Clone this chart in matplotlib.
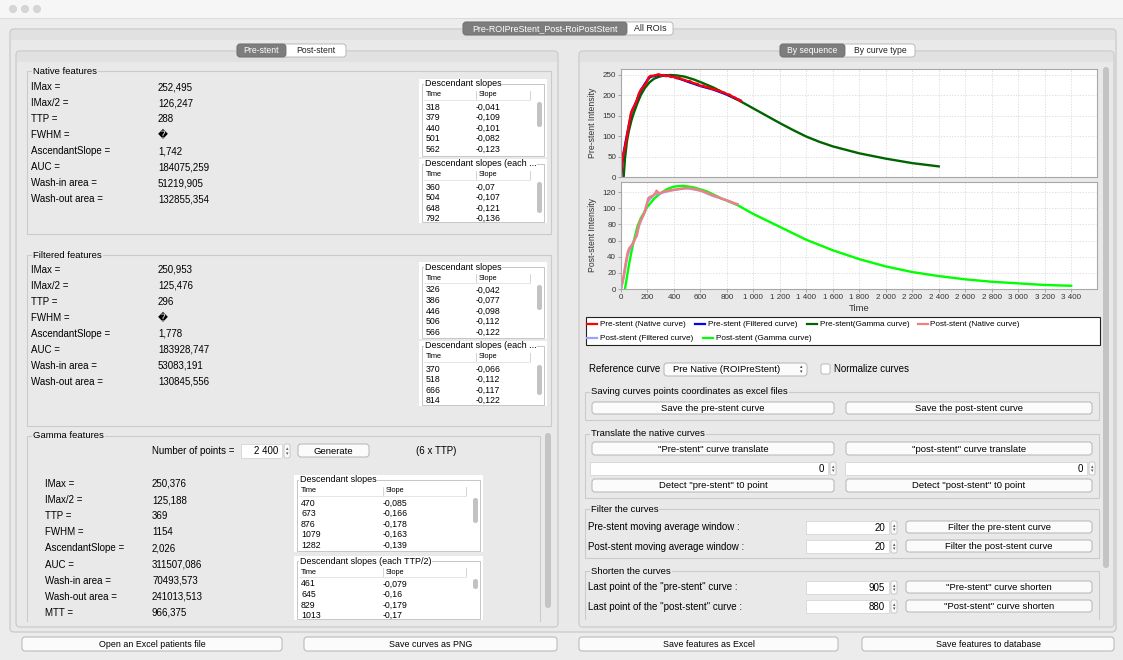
import matplotlib
matplotlib.use('Agg')
import matplotlib.pyplot as plt
from matplotlib.patches import Rectangle, FancyBboxPatch, Circle
from matplotlib.ticker import FuncFormatter, MultipleLocator

# ---- curve data ----
pre_native_t = [0, 5, 10, 20, 30, 45, 60, 75, 90, 105, 120, 135, 150, 165, 180, 195, 210, 225, 245, 265,
                285, 300, 320, 340, 360, 380, 400, 420, 440, 460, 480, 500, 520, 540, 560, 580, 600, 620,
                640, 660, 680, 700, 720, 740, 760, 780, 800, 820, 840, 860, 880, 895, 905]
pre_native_v = [0, 22, 42, 58, 72, 100, 128, 156, 168, 176, 189, 204, 214, 219, 225, 233, 245, 248, 248, 250,
                252, 248, 250, 247, 249, 245, 246, 242, 243, 239, 238, 235, 235, 231, 229, 228, 223, 224,
                220, 220, 216, 216, 212, 212, 208, 207, 203, 202, 197, 195, 190, 189, 186]
pre_filt_t = [0, 10, 20, 40, 60, 80, 100, 120, 140, 160, 180, 200, 220, 240, 270, 300, 350, 400, 450,
              500, 600, 700, 800, 905]
pre_filt_v = [0, 35, 60, 95, 128, 160, 174, 188, 206, 218, 228, 238, 245, 247, 249, 250, 248, 245, 240,
              234, 223, 214, 202, 187]
pre_gamma_t = [20, 30, 45, 60, 80, 100, 125, 150, 180, 215, 250, 290, 330, 370, 420, 480, 550, 620, 700,
               800, 900, 1000, 1100, 1200, 1300, 1400, 1500, 1600, 1800, 2000, 2200, 2400]
pre_gamma_v = [0, 45, 88, 114, 140, 160, 182, 201, 218, 232, 241, 246, 249, 250, 249, 246, 239, 230, 219,
               202, 186, 168, 150, 132, 115, 99, 86, 75, 58, 45, 34, 26]

post_native_t = [0, 10, 20, 35, 50, 60, 75, 90, 105, 120, 135, 150, 165, 180, 195, 205, 215, 230, 245, 260,
                 268, 280, 295, 310, 330, 360, 400, 440, 480, 520, 560, 600, 640, 680, 720, 760, 800, 840, 880]
post_native_v = [0, 8, 16, 32, 45, 50, 53, 56, 62, 66, 80, 86, 90, 95, 105, 112, 114, 115, 116, 119,
                 122, 120, 118, 120, 121, 122, 123, 124, 125, 125, 124, 122, 120, 117, 115, 112, 110, 107, 105]
post_filt_t = [0, 20, 50, 80, 110, 140, 170, 200, 250, 300, 400, 500, 600, 700, 800, 880]
post_filt_v = [0, 14, 42, 54, 64, 80, 92, 108, 117, 119, 123, 125, 122, 115, 110, 105]
post_gamma_t = [30, 40, 60, 80, 100, 125, 150, 200, 250, 300, 350, 400, 470, 550, 650, 750, 880, 1000,
                1200, 1400, 1600, 1800, 2000, 2200, 2400, 2600, 2800, 3000, 3200, 3400]
post_gamma_v = [0, 10, 30, 47, 62, 78, 88, 102, 112, 119, 124, 127, 128, 126, 121, 113, 104, 93,
                77, 61, 48, 37, 28, 21, 16, 12, 9, 7, 5, 4]

legend_names = ['Pre-stent (Native curve)', 'Pre-stent (Filtered curve)', 'Pre-stent(Gamma curve)',
                'Post-stent (Native curve)', 'Post-stent (Filtered curve)', 'Post-stent (Gamma curve)']
legend_colors = ['#ff0000', '#0000ff', '#006400', '#f08080', '#a0a0ff', '#00ff00']

# ---- feature panels ----
feat_labels = ['IMax =', 'IMax/2 =', 'TTP =', 'FWHM =', 'AscendantSlope =', 'AUC =',
               'Wash-in area =', 'Wash-out area =']
native_values = ['252,495', '126,247', '288', '\ufffd', '1,742', '184075,259', '51219,905', '132855,354']
filtered_values = ['250,953', '125,476', '296', '\ufffd', '1,778', '183928,747', '53083,191', '130845,556']
gamma_labels = feat_labels + ['MTT =']
gamma_values = ['250,376', '125,188', '369', '1154', '2,026', '311507,086', '70493,573',
                '241013,513', '966,375']

native_slope_t = ['318', '379', '440', '501', '562']
native_slope_v = ['-0,041', '-0,109', '-0,101', '-0,082', '-0,123']
native_half_t = ['360', '504', '648', '792']
native_half_v = ['-0,07', '-0,107', '-0,121', '-0,136']
filtered_slope_t = ['326', '386', '446', '506', '566']
filtered_slope_v = ['-0,042', '-0,077', '-0,098', '-0,112', '-0,122']
filtered_half_t = ['370', '518', '666', '814']
filtered_half_v = ['-0,066', '-0,112', '-0,117', '-0,122']
gamma_slope_t = ['470', '673', '876', '1079', '1282']
gamma_slope_v = ['-0,085', '-0,166', '-0,178', '-0,163', '-0,139']
gamma_half_t = ['461', '645', '829', '1013']
gamma_half_v = ['-0,079', '-0,16', '-0,179', '-0,17']

W, H = 1123, 660
BG = '#ececec'
EDGE = '#c6c6c6'

plt.rcParams['font.family'] = ['Liberation Sans', 'DejaVu Sans']

fig = plt.figure(figsize=(W / 100, H / 100), dpi=100, facecolor=BG)
ui = fig.add_axes([0, 0, 1, 1])
ui.set_xlim(0, W)
ui.set_ylim(H, 0)
ui.axis('off')


def rect(x0, y0, x1, y1, fc='none', ec=EDGE, lw=0.8, z=1):
    p = Rectangle((x0, y0), x1 - x0, y1 - y0, fc=fc, ec=ec, lw=lw, zorder=z)
    ui.add_patch(p)
    return p


def rbox(x0, y0, x1, y1, fc='#fbfbfb', ec='#b4b4b4', r=3, lw=0.7, z=3):
    ui.add_patch(FancyBboxPatch((x0, y0), x1 - x0, y1 - y0, boxstyle='round,pad=0,rounding_size=%s' % r,
                                fc=fc, ec=ec, lw=lw, zorder=z))


def button(x0, y0, x1, y1, s, fs=6.8):
    rbox(x0, y0, x1, y1)
    ui.text((x0 + x1) / 2, (y0 + y1) / 2 + 0.5, s, ha='center', va='center', fontsize=fs, zorder=4)


def label(x, y, s, fs=7, **kw):
    ui.text(x, y, s, fontsize=fs, va='center', zorder=5, **kw)


def group(x0, y0, x1, y1, title, fc=BG):
    rect(x0, y0, x1, y1, ec='#cbcbcb', z=1.5)
    ui.text(x0 + 6, y0, title, fontsize=6.8, va='center', zorder=2,
            bbox=dict(fc=fc, ec='none', pad=0.6))


def spinner(x, y0, y1):
    rbox(x, y0, x + 6, y1, fc='#fbfbfb', ec='#b8b8b8', r=2, lw=0.5)
    ym = (y0 + y1) / 2
    ui.text(x + 3, ym - 2.3, '\u25b4', fontsize=3.5, ha='center', va='center', zorder=5, color='#555')
    ui.text(x + 3, ym + 2.3, '\u25be', fontsize=3.5, ha='center', va='center', zorder=5, color='#555')


def spinfield(x0, y0, x1, y1, val):
    rect(x0, y0, x1, y1, fc='white', ec='#cfcfcf', lw=0.5, z=3)
    label(x1 - 4, (y0 + y1) / 2 + 0.5, val, ha='right')
    spinner(x1 + 2, y0, y1)


def slope_table(x0, y0, x1, y1, title, times, slopes, col2, thumb):
    clip = rect(x0, y0, x1, y1, fc='white', ec='none', z=2)
    rect(x0 + 3, y0 + 5, x1 - 3, y1 - 1, ec='#bdbdbd', lw=0.6, z=2.5)
    ui.text(x0 + 6, y0 + 5, title, fontsize=6.5, va='center', zorder=4,
            bbox=dict(fc='white', ec='none', pad=0.4))
    hy = y0 + 16
    label(x0 + 7, hy, 'Time', fs=5.3)
    label(col2 + 3, hy, 'Slope', fs=5.3)
    ui.plot([col2, col2], [hy - 4, hy + 4], color='#c0c0c0', lw=0.5, zorder=4)
    ui.plot([x1 - 17, x1 - 17], [hy - 4, hy + 4], color='#c0c0c0', lw=0.5, zorder=4)
    ui.plot([x0 + 5, x1 - 17], [hy + 5, hy + 5], color='#e2e2e2', lw=0.6, zorder=4)
    for i, (t, s) in enumerate(zip(times, slopes)):
        yy = y0 + 28 + i * 10.6
        for xx, ss in ((x0 + 7, t), (col2, s)):
            tx = ui.text(xx, yy, ss, fontsize=6.3, va='center', zorder=4)
            tx.set_clip_path(clip)
    rbox(x1 - 10, y0 + thumb[0], x1 - 5, y0 + thumb[1], fc='#c2c2c2', ec='none', r=2.4, z=5)


# ---- window chrome ----
rect(0, 0, W, 18, fc='#f6f6f6', ec='none', z=0.5)
ui.plot([0, W], [18, 18], color='#d8d8d8', lw=0.6)
for cx in (13, 25, 37):
    ui.add_patch(Circle((cx, 9), 3.6, fc='#d6d6d6', ec='#c8c8c8', lw=0.4, zorder=2))


def panel(x0, y0, x1, y1):
    rbox(x0, y0, x1, y1, fc='#e9e9e9', ec='#c6c6c6', r=4, lw=0.8, z=0.8)
    rect(x0 + 1, y0 + 1, x1 - 1, y0 + 11, fc='#e1e1e1', ec='none', z=0.9)


panel(10, 29, 1116, 632)
panel(16, 51, 558, 627)
panel(579, 51, 1114, 627)


def tabs(items, y0, y1, sel, fs=6.2):
    x_start, x_end = items[0][1], items[-1][2]
    rbox(x_start, y0, x_end, y1, fc='white', ec='#b0b0b0', r=3, lw=0.6, z=3)
    for i, (s, a, b) in enumerate(items):
        if i == sel:
            rbox(a, y0, b, y1, fc='#7d7d7d', ec='#6f6f6f', r=3, lw=0.6, z=3.5)
        ui.text((a + b) / 2, (y0 + y1) / 2 + 0.3, s, ha='center', va='center', fontsize=fs,
                color='white' if i == sel else '#222', zorder=4)


tabs([('Pre-ROIPreStent_Post-RoiPostStent', 463, 627), ('All ROIs', 627, 673)], 22, 35, 0, fs=6.4)
tabs([('Pre-stent', 237, 286), ('Post-stent', 286, 346)], 44, 57, 0)
tabs([('By sequence', 780, 845), ('By curve type', 845, 915)], 44, 57, 0)

# ---- left side: feature panels ----
group(27, 71, 551, 234, 'Native features', fc='#e9e9e9')
for i, (a, b) in enumerate(zip(feat_labels, native_values)):
    label(31, 87 + i * 16, a)
    label(158, 87 + i * 16, b)
slope_table(419, 79, 547, 157, 'Descendant slopes', native_slope_t, native_slope_v, 476, (23, 48))
slope_table(419, 159, 547, 223, 'Descendant slopes (each ...', native_half_t, native_half_v, 476, (23, 54))

group(27, 255, 551, 426, 'Filtered features', fc='#e9e9e9')
for i, (a, b) in enumerate(zip(feat_labels, filtered_values)):
    label(31, 270 + i * 16, a)
    label(158, 270 + i * 16, b)
slope_table(419, 262, 547, 339, 'Descendant slopes', filtered_slope_t, filtered_slope_v, 476, (23, 48))
slope_table(419, 341, 547, 406, 'Descendant slopes (each ...', filtered_half_t, filtered_half_v, 476, (24, 54))

group(27, 436, 540, 622, 'Gamma features', fc='#e9e9e9')
label(152, 451, 'Number of points =')
spinfield(241, 444, 282, 458, '2 400')
button(298, 444, 369, 457, 'Generate')
label(416, 451, '(6 x TTP)')
for i, (a, b) in enumerate(zip(gamma_labels, gamma_values)):
    label(45, 484 + i * 16.1, a)
    label(152, 484 + i * 16.1, b)
slope_table(294, 475, 483, 552, 'Descendant slopes', gamma_slope_t, gamma_slope_v, 383, (23, 48))
slope_table(294, 556, 483, 620, 'Descendant slopes (each TTP/2)', gamma_half_t, gamma_half_v, 383, (23, 33))
rect(17, 622, 557, 626, fc='#e9e9e9', ec='none', z=6)
rbox(545, 433, 551, 608, fc='#c4c4c4', ec='none', r=3, z=6)

# ---- right side: chart area ----
rbox(1103, 67, 1109, 568, fc='#c4c4c4', ec='none', r=3, z=6)

fmt = FuncFormatter(lambda v, p: ('%d' % v) if v < 1000 else '{:,.0f}'.format(v).replace(',', ' '))


def style_chart(ax, ytop, ystep, ylabel):
    ax.set_facecolor('white')
    ax.set_xlim(0, 3595)
    ax.set_ylim(0, ytop)
    ax.xaxis.set_major_locator(MultipleLocator(200))
    ax.yaxis.set_major_locator(MultipleLocator(ystep))
    ax.xaxis.set_major_formatter(fmt)
    ax.grid(True, color='#d4d4d4', lw=0.5, ls=(0, (2, 2)))
    ax.set_axisbelow(True)
    for s in ax.spines.values():
        s.set_color('#a8a8a8')
        s.set_linewidth(0.8)
    ax.tick_params(labelsize=5.8, colors='#8a8a8a', labelcolor='#333333', length=2, width=0.5, pad=1.5)
    ax.set_ylabel(ylabel, fontsize=6.2, labelpad=4, color='#333333')


ax1 = fig.add_axes([621 / W, 1 - 177 / H, 476 / W, 108 / H])
ax2 = fig.add_axes([621 / W, 1 - 289 / H, 476 / W, 107 / H])
style_chart(ax1, 264.7, 50, 'Pre-stent Intensity')
style_chart(ax2, 132.7, 20, 'Post-stent Intensity')
ax1.tick_params(axis='x', labelbottom=False, length=0)
ax2.set_xlabel('Time', fontsize=6.8, labelpad=2, color='#333333')

lw = 1.7
ax1.plot(pre_gamma_t, pre_gamma_v, color=legend_colors[2], lw=lw)
ax1.plot(pre_filt_t, pre_filt_v, color=legend_colors[1], lw=lw)
ax1.plot(pre_native_t, pre_native_v, color=legend_colors[0], lw=lw)
ax2.plot(post_gamma_t, post_gamma_v, color=legend_colors[5], lw=lw)
ax2.plot(post_filt_t, post_filt_v, color=legend_colors[4], lw=lw)
ax2.plot(post_native_t, post_native_v, color=legend_colors[3], lw=lw)

# legend box
rect(586, 317, 1100, 345, fc='white', ec='#222222', lw=0.8, z=2)
leg_pos = [(587, 324), (695, 324), (807, 324), (918, 324), (587, 338), (703, 338)]
for (lx, ly), name, col in zip(leg_pos, legend_names, legend_colors):
    ui.plot([lx, lx + 10], [ly, ly], color=col, lw=1.6, zorder=3)
    label(lx + 12.5, ly + 0.5, name, fs=5.9)

# ---- right side: controls ----
label(589, 369, 'Reference curve')
rbox(664, 363, 807, 376, fc='#fbfbfb', ec='#b4b4b4')
label(673, 369.5, 'Pre Native (ROIPreStent)', fs=6.8)
ui.text(801, 366.5, '\u25b4', fontsize=3.5, ha='center', va='center', zorder=5, color='#444')
ui.text(801, 371.5, '\u25be', fontsize=3.5, ha='center', va='center', zorder=5, color='#444')
rbox(821, 364, 830, 374, fc='white', ec='#b0b0b0', r=2, lw=0.6)
label(834, 369.5, 'Normalize curves')

group(585, 392, 1099, 420, 'Saving curves points coordinates as excel files', fc='#e9e9e9')
button(592, 402, 834, 414, 'Save the pre-stent curve')
button(846, 402, 1092, 414, 'Save the post-stent curve')

group(585, 434, 1099, 498, 'Translate the native curves', fc='#e9e9e9')
button(592, 442, 834, 455, '"Pre-stent" curve translate')
button(846, 442, 1092, 455, '"post-stent" curve translate')
spinfield(590, 462, 828, 475, '0')
spinfield(845, 462, 1087, 475, '0')
button(592, 479, 834, 492, 'Detect "pre-stent" t0 point')
button(846, 479, 1092, 492, 'Detect "post-stent" t0 point')

group(585, 509, 1099, 558, 'Filter the curves', fc='#e9e9e9')
label(588, 527, 'Pre-stent moving average window :')
spinfield(806, 521, 889, 534, '20')
button(906, 521, 1092, 533, 'Filter the pre-stent curve')
label(588, 547, 'Post-stent moving average window :')
spinfield(806, 540, 889, 553, '20')
button(906, 540, 1092, 552, 'Filter the post-stent curve')

group(585, 571, 1099, 622, 'Shorten the curves', fc='#e9e9e9')
label(588, 587, 'Last point of the "pre-stent" curve :')
spinfield(806, 581, 889, 594, '905')
button(906, 581, 1092, 593, '"Pre-stent" curve shorten')
label(588, 607, 'Last point of the "post-stent" curve :')
spinfield(806, 600, 889, 613, '880')
button(906, 600, 1092, 612, '"Post-stent" curve shorten')
rect(580, 620, 1113, 626, fc='#e9e9e9', ec='none', z=6)

# ---- bottom buttons ----
button(22, 637, 282, 651, 'Open an Excel patients file', fs=6.4)
button(304, 637, 557, 651, 'Save curves as PNG', fs=6.4)
button(579, 637, 838, 651, 'Save features as Excel', fs=6.4)
button(862, 637, 1114, 651, 'Save features to database', fs=6.4)

fig.savefig('out.png', dpi=100, facecolor=BG)
